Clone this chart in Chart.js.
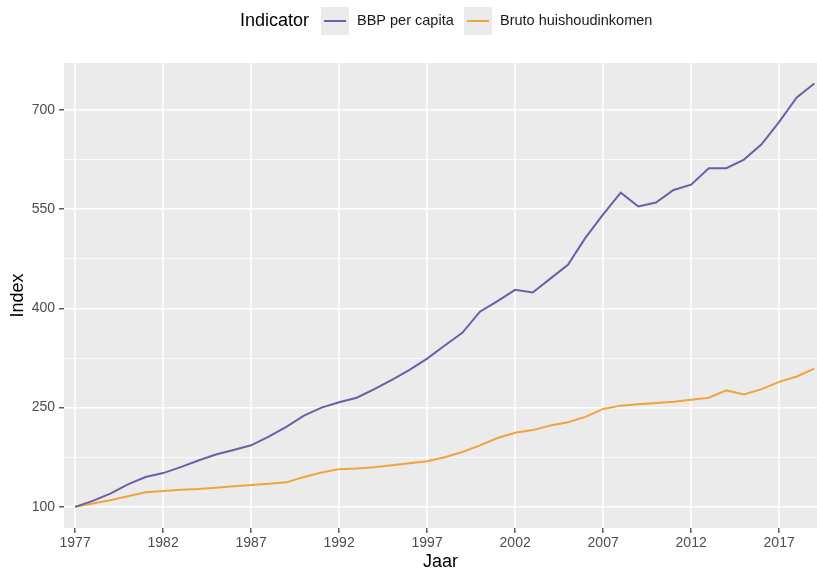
<!DOCTYPE html>
<html lang="nl">
<head>
<meta charset="UTF-8">
<title>BBP per capita en bruto huishoudinkomen</title>
<script src="https://cdn.jsdelivr.net/npm/chart.js@4.4.1/dist/chart.umd.min.js"></script>
<style>
  html, body { margin: 0; padding: 0; background: #fff; }
  #wrap { width: 817px; height: 568px; }
</style>
</head>
<body>
<div id="wrap"><canvas id="myChart" width="817" height="568"></canvas></div>
<script>
// data
const years = [1977, 1978, 1979, 1980, 1981, 1982, 1983, 1984, 1985, 1986,
               1987, 1988, 1989, 1990, 1991, 1992, 1993, 1994, 1995, 1996,
               1997, 1998, 1999, 2000, 2001, 2002, 2003, 2004, 2005, 2006,
               2007, 2008, 2009, 2010, 2011, 2012, 2013, 2014, 2015, 2016,
               2017, 2018, 2019];
const bbp = [100, 109, 120, 134, 145, 151, 160, 170, 179, 186,
             193, 206, 221, 238, 250, 258, 265, 278, 292, 307,
             324, 344, 363, 395, 411, 428, 424, 445, 466, 507,
             542, 575, 554, 560, 579, 587, 612, 612, 625, 648,
             682, 719, 740];
const inkomen = [100, 105, 110, 116, 122, 124, 126, 127, 129, 131,
                 133, 135, 137, 145, 152, 157, 158, 160, 163, 166,
                 169, 175, 183, 193, 204, 212, 216, 223, 228, 236,
                 248, 253, 255, 257, 259, 262, 265, 276, 270, 278,
                 289, 297, 309];
const seriesNames = ['BBP per capita', 'Bruto huishoudinkomen'];
const seriesColors = ['#6e5ea7', '#f3a23c'];
const xTicks = [1977, 1982, 1987, 1992, 1997, 2002, 2007, 2012, 2017];
const yMajor = [100, 250, 400, 550, 700];
const yMinor = [175, 325, 475, 625];

const FONT = "'Liberation Sans', Arial, sans-serif";

// grey panel like ggplot
const panelBg = {
    id: 'panelBg',
    beforeDraw(chart) {
        const {ctx, chartArea: a} = chart;
        ctx.save();
        ctx.fillStyle = '#ebebeb';
        ctx.fillRect(a.left, a.top, a.right - a.left, a.bottom - a.top);
        ctx.restore();
    }
};

// legend with title on one row
const topLegend = {
    id: 'topLegend',
    afterDraw(chart) {
        const ctx = chart.ctx;
        const cy = 21;
        ctx.save();
        ctx.textBaseline = 'middle';
        ctx.fillStyle = '#000';
        ctx.font = '18px ' + FONT;
        ctx.fillText('Indicator', 240, cy);
        const boxes = [321, 464];
        seriesNames.forEach((name, i) => {
            const bx = boxes[i];
            ctx.fillStyle = '#ebebeb';
            ctx.fillRect(bx, cy - 14, 28, 28);
            ctx.strokeStyle = seriesColors[i];
            ctx.lineWidth = 2;
            ctx.beginPath();
            ctx.moveTo(bx + 3, cy);
            ctx.lineTo(bx + 25, cy);
            ctx.stroke();
            ctx.fillStyle = '#1a1a1a';
            ctx.font = '14.5px ' + FONT;
            ctx.fillText(name, bx + 36, cy);
        });
        ctx.restore();
    }
};

const ctx = document.getElementById('myChart').getContext('2d');
const myChart = new Chart(ctx, {
    type: 'line',
    data: {
        datasets: [bbp, inkomen].map((vals, i) => ({
            label: seriesNames[i],
            data: years.map((y, j) => ({x: y, y: vals[j]})),
            borderColor: seriesColors[i],
            borderWidth: 2,
            pointRadius: 0,
            tension: 0,
            fill: false
        }))
    },
    options: {
        responsive: false,
        animation: false,
        layout: {padding: {top: 63, left: 0, right: 0, bottom: 0}},
        plugins: {legend: {display: false}, tooltip: {enabled: false}},
        scales: {
            x: {
                type: 'linear',
                min: 1976.37,
                max: 2019.15,
                afterBuildTicks: s => { s.ticks = xTicks.map(v => ({value: v})); },
                afterFit: s => { s.height = 40; },
                border: {display: false},
                grid: {color: '#ffffff', lineWidth: 1.6, tickColor: '#333333', tickLength: 5, tickWidth: 1.2},
                ticks: {autoSkip: false, maxRotation: 0, padding: 2, color: '#4d4d4d',
                        font: {family: FONT, size: 14}, callback: v => String(v)},
                title: {display: true, text: 'Jaar', color: '#000',
                        font: {family: FONT, size: 18}, padding: {top: 0, bottom: -5}}
            },
            y: {
                type: 'linear',
                min: 68,
                max: 771,
                afterBuildTicks: s => {
                    s.ticks = yMajor.concat(yMinor).sort((a, b) => a - b).map(v => ({value: v}));
                },
                afterFit: s => { s.width = 64; },
                border: {display: false},
                grid: {
                    color: '#ffffff',
                    lineWidth: c => yMajor.includes(c.tick.value) ? 1.6 : 0.8,
                    tickColor: c => yMajor.includes(c.tick.value) ? '#333333' : 'rgba(0,0,0,0)',
                    tickLength: 5,
                    tickWidth: 1.2
                },
                ticks: {autoSkip: false, padding: 4, color: '#4d4d4d',
                        font: {family: FONT, size: 14},
                        callback: v => yMajor.includes(v) ? String(v) : ''},
                title: {display: true, text: 'Index', color: '#000',
                        font: {family: FONT, size: 18}, padding: {top: 7, bottom: 0}}
            }
        }
    },
    plugins: [panelBg, topLegend]
});
</script>
</body>
</html>
